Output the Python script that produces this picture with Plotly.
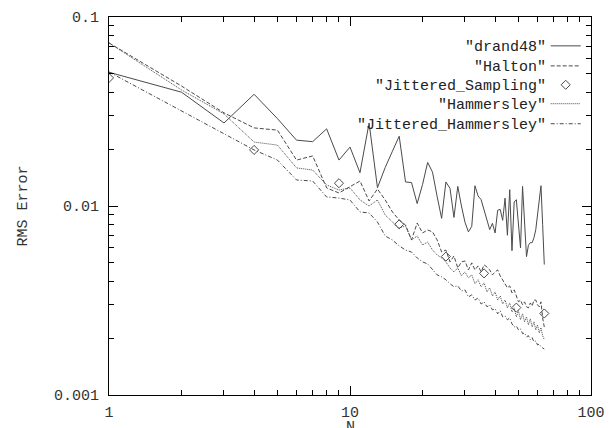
import plotly.graph_objects as go

N = list(range(1, 65))

drand48 = [0.051, 0.040, 0.0275, 0.039, 0.029, 0.0223, 0.0219, 0.0256, 0.0175, 0.0205,
           0.0150, 0.0275, 0.0125, 0.0160, 0.0195, 0.0234, 0.0134, 0.0133, 0.0103, 0.0130,
           0.0170, 0.0151, 0.0112, 0.0086, 0.0134, 0.0124, 0.0087, 0.0127, 0.0100, 0.0082,
           0.0073, 0.0078, 0.0128, 0.0113, 0.0108, 0.0095, 0.0085, 0.0075, 0.0081, 0.0072,
           0.0095, 0.0096, 0.0084, 0.0110, 0.0070, 0.0122, 0.0058, 0.0105, 0.0108, 0.0078,
           0.0060, 0.0127, 0.0080, 0.0054, 0.0062, 0.0064, 0.0064, 0.0068, 0.0075, 0.0090,
           0.0110, 0.0128, 0.0080, 0.0049]

halton = [0.0729, 0.0431, 0.0311, 0.0259, 0.0252, 0.0175, 0.0184, 0.01246, 0.01172, 0.01261,
          0.01356, 0.01063, 0.0123, 0.01076, 0.0093, 0.00843, 0.00793, 0.00661, 0.00813, 0.0072,
          0.00747, 0.00729, 0.00661, 0.00571, 0.00585, 0.00506, 0.00544, 0.0047, 0.00506, 0.00512,
          0.00459, 0.0050, 0.00459, 0.00482, 0.00448, 0.00488, 0.00476, 0.00459, 0.00432, 0.00448,
          0.00459, 0.00427, 0.00407, 0.00388, 0.00369, 0.00378, 0.00347, 0.0036, 0.0033, 0.00311,
          0.00318, 0.0030, 0.00311, 0.00293, 0.00289, 0.00307, 0.00296, 0.00318, 0.00318, 0.0030,
          0.00293, 0.00311, 0.00256, 0.00229]

jit_n = [1, 4, 9, 16, 25, 36, 49, 64]
jittered_sampling = [0.0476, 0.0198, 0.0132, 0.0080, 0.0054, 0.0044, 0.0029, 0.0027]

hammersley = [0.0729, 0.0411, 0.0307, 0.0218, 0.0210, 0.0159, 0.0155, 0.01292, 0.01215, 0.01246,
              0.01076, 0.0100, 0.01076, 0.00896, 0.00823, 0.00765, 0.00784, 0.00661, 0.00694, 0.00622,
              0.00645, 0.00585, 0.00551, 0.00531, 0.00506, 0.0047, 0.00448, 0.0047, 0.00427, 0.00448,
              0.00417, 0.00432, 0.00388, 0.00407, 0.00374, 0.00392, 0.00351, 0.00369, 0.00334, 0.00351,
              0.00318, 0.00334, 0.00303, 0.00318, 0.00289, 0.00307, 0.00275, 0.00289, 0.00259, 0.00279,
              0.0025, 0.00269, 0.00244, 0.00259, 0.00235, 0.00253, 0.00229, 0.00244, 0.00221, 0.00235,
              0.00213, 0.00227, 0.00206, 0.00196]

jittered_hammersley = [0.0512, 0.0318, 0.0240, 0.0198, 0.0175, 0.01373, 0.01356, 0.01116, 0.01102, 0.01076,
                       0.0093, 0.00918, 0.00823, 0.00694, 0.00661, 0.00615, 0.00585, 0.00571, 0.00531, 0.00506,
                       0.00494, 0.00459, 0.00432, 0.00422, 0.00407, 0.00388, 0.00374, 0.00378, 0.00355, 0.0036,
                       0.0033, 0.00339, 0.00318, 0.00326, 0.00303, 0.00311, 0.00293, 0.0030, 0.00282, 0.00286,
                       0.00269, 0.00279, 0.00259, 0.00262, 0.0025, 0.00256, 0.00238, 0.00229, 0.00232, 0.00221,
                       0.00224, 0.00211, 0.00213, 0.00203, 0.00206, 0.00196, 0.00201, 0.00191, 0.00193, 0.00184,
                       0.00186, 0.0018, 0.00177, 0.00175]

legend_labels = ['"drand48"', '"Halton"', '"Jittered_Sampling"', '"Hammersley"', '"Jittered_Hammersley"']

LC = "#4a4a4a"
FONT = "Liberation Mono"

W, H = 613, 428
ML, MR, MT, MB = 109, 12, 17, 33

fig = go.Figure()
fig.add_trace(go.Scatter(x=N, y=drand48, mode="lines", name=" ", legend="legend",
                         line=dict(color=LC, width=1)))
fig.add_trace(go.Scatter(x=N, y=halton, mode="lines", name=" ", legend="legend2",
                         line=dict(color=LC, width=1, dash="4px,2px")))
fig.add_trace(go.Scatter(x=jit_n, y=jittered_sampling, mode="markers", name=" ", legend="legend3",
                         marker=dict(symbol="diamond-open", size=7, color=LC, line=dict(width=1, color=LC))))
fig.add_trace(go.Scatter(x=N, y=hammersley, mode="lines", name=" ", legend="legend4",
                         line=dict(color=LC, width=1, dash="1px,1px")))
fig.add_trace(go.Scatter(x=N, y=jittered_hammersley, mode="lines", name=" ", legend="legend5",
                         line=dict(color=LC, width=1, dash="4px,2px,1px,2px")))

ann_y = [0.918, 0.866, 0.815, 0.765, 0.712]
leg_y = [0.923, 0.870, 0.820, 0.770, 0.717]
for lab, yy in zip(legend_labels, ann_y):
    fig.add_annotation(text=lab, x=0.910, y=yy, xref="paper", yref="paper",
                       xanchor="right", yanchor="middle", showarrow=False,
                       font=dict(family=FONT, size=15, color="#222"))

# x-axis title placed like the original (partly below the page edge)
fig.add_annotation(text="N", x=0.5, y=-0.085, xref="paper", yref="paper",
                   xanchor="center", yanchor="middle", showarrow=False,
                   font=dict(family=FONT, size=15, color="#333"))

legends = {}
for i, yy in enumerate(leg_y):
    key = "legend" if i == 0 else f"legend{i + 1}"
    legends[key] = dict(x=0.906, y=yy, xanchor="left", yanchor="middle",
                        font=dict(family=FONT, size=15), bgcolor="rgba(0,0,0,0)",
                        itemwidth=30)

axis_common = dict(type="log", showline=True, linecolor="black", linewidth=1.2, mirror="allticks",
                   ticks="inside", ticklen=9, tickcolor="black", showgrid=False, zeroline=False,
                   tickfont=dict(family=FONT, size=15, color="#333"),
                   minor=dict(ticks="inside", ticklen=5, tickcolor="black", dtick="D1", showgrid=False),
                   automargin=False)

fig.update_xaxes(range=[0, 2], tickvals=[1, 10, 100], ticktext=["1", "10", "100"],
                 ticklabelstandoff=3, ticklabeloverflow="allow", **axis_common)
fig.update_yaxes(range=[-3, -1], tickvals=[0.001, 0.01, 0.1], ticktext=["0.001", "0.01", "0.1"],
                 title=dict(text="RMS Error", font=dict(family=FONT, size=15, color="#333"), standoff=22),
                 ticklabelstandoff=6, **axis_common)

fig.update_layout(width=W, height=H, margin=dict(l=ML, r=MR, t=MT, b=MB),
                  paper_bgcolor="white", plot_bgcolor="white",
                  showlegend=True, **legends)

fig.write_html("out.html", config={"displayModeBar": False, "responsive": False},
               post_script="document.documentElement.style.overflow='hidden';"
                           "document.body.style.margin='0';document.body.style.overflow='hidden';")
